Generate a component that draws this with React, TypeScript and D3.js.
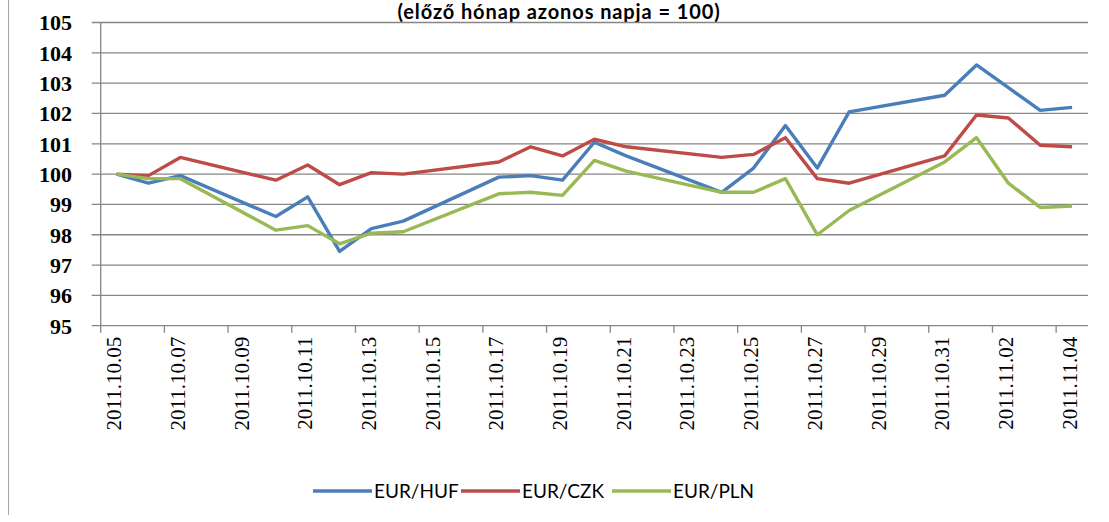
import React, { useEffect } from "react";
import * as d3 from "d3";

// trading days shown (weekends are just joined by the line)
const dates = [
  "2011-10-05", "2011-10-06", "2011-10-07", "2011-10-10", "2011-10-11",
  "2011-10-12", "2011-10-13", "2011-10-14", "2011-10-17", "2011-10-18",
  "2011-10-19", "2011-10-20", "2011-10-21", "2011-10-24", "2011-10-25",
  "2011-10-26", "2011-10-27", "2011-10-28", "2011-10-31", "2011-11-01",
  "2011-11-02", "2011-11-03", "2011-11-04",
];

const eurHuf = [
  100, 99.7, 99.95, 98.6, 99.25, 97.45, 98.2, 98.45, 99.9, 99.95, 99.8,
  101.05, 100.6, 99.4, 100.2, 101.6, 100.2, 102.05, 102.6, 103.6, 102.85,
  102.1, 102.2,
];
const eurCzk = [
  100, 99.95, 100.55, 99.8, 100.3, 99.65, 100.05, 100.0, 100.4, 100.9, 100.6,
  101.15, 100.9, 100.55, 100.65, 101.2, 99.85, 99.7, 100.6, 101.95, 101.85,
  100.95, 100.9,
];
const eurPln = [
  100, 99.85, 99.85, 98.15, 98.3, 97.7, 98.05, 98.1, 99.35, 99.4, 99.3,
  100.45, 100.1, 99.4, 99.4, 99.85, 98.0, 98.8, 100.4, 101.2, 99.7, 98.9,
  98.95,
];

const seriesNames = ["EUR/HUF", "EUR/CZK", "EUR/PLN"];
const seriesColors = ["#4A7EBB", "#BE4B48", "#98B954"];
const yTicks = [95, 96, 97, 98, 99, 100, 101, 102, 103, 104, 105];
const title = "(előző hónap azonos napja = 100)";

const W = 1109;
const H = 522;
const left = 100.7;
const right = 1088;
const top = 22.5;
const bottom = 325.7;

const parse = d3.timeParse("%Y-%m-%d");
const fmt = d3.timeFormat("%Y.%m.%d");
const key = d3.timeFormat("%Y-%m-%d");

export default function App() {
  useEffect(() => {
    document.body.style.margin = "0";
  }, []);

  const first = parse(dates[0]) as Date;
  const last = parse(dates[dates.length - 1]) as Date;
  const allDays = d3.timeDay.range(first, d3.timeDay.offset(last, 1)).map(key);

  const x = d3.scaleBand<string>().domain(allDays).range([left, right]).padding(0);
  const y = d3.scaleLinear().domain([95, 105]).range([bottom, top]);

  const labelDays = allDays.filter((_, i) => i % 2 === 0);

  const line = d3
    .line<number>()
    .x((_, i) => (x(dates[i]) as number) + x.bandwidth() / 2)
    .y((d) => y(d));

  const all = [eurHuf, eurCzk, eurPln];

  const legendX = [313, 461, 612];

  return (
    <svg width={W} height={H} style={{ display: "block" }}>
      <rect x={0} y={0} width={W} height={H} fill="#fff" />
      <line x1={8.5} x2={8.5} y1={0} y2={515} stroke="#A6A6A6" strokeWidth={1} />

      <text
        x={559}
        y={19}
        textAnchor="middle"
        fontFamily="Lato, 'Liberation Sans', sans-serif"
        fontWeight="bold"
        fontSize={20}
        letterSpacing={0.9}
        fill="#000"
      >
        {title}
      </text>

      {/* gridlines + y axis */}
      {yTicks.map((t) => (
        <g key={t}>
          <line
            x1={left - 9}
            x2={right}
            y1={y(t)}
            y2={y(t)}
            stroke="#868686"
            strokeWidth={1.3}
          />
          <text
            x={72}
            y={y(t)}
            dy="0.36em"
            textAnchor="end"
            fontFamily="'Liberation Serif', serif"
            fontWeight="bold"
            fontSize={22}
            fill="#000"
          >
            {t}
          </text>
        </g>
      ))}
      <line x1={left} x2={left} y1={top} y2={bottom} stroke="#868686" strokeWidth={1.3} />

      {/* x axis ticks and labels */}
      {labelDays.map((d) => {
        const x0 = x(d) as number;
        const cx = x0 + x.bandwidth() / 2 - 3;
        return (
          <g key={d}>
            <line x1={x0} x2={x0} y1={bottom} y2={bottom + 7} stroke="#868686" strokeWidth={1.3} />
            <text
              transform={`translate(${cx},${bottom + 11}) rotate(-90)`}
              textAnchor="end"
              dy="0.36em"
              fontFamily="'Liberation Serif', serif"
              fontSize={21}
              fill="#000"
            >
              {fmt(parse(d) as Date)}
            </text>
          </g>
        );
      })}

      {/* series */}
      {all.map((s, i) => (
        <path
          key={seriesNames[i]}
          d={line(s) || ""}
          fill="none"
          stroke={seriesColors[i]}
          strokeWidth={3.4}
          strokeLinejoin="round"
        />
      ))}

      {/* legend */}
      {seriesNames.map((n, i) => (
        <g key={n} transform={`translate(${legendX[i]},491)`}>
          <line x1={0} x2={59} y1={0} y2={0} stroke={seriesColors[i]} strokeWidth={3.4} />
          <text
            x={61}
            y={0}
            dy="0.36em"
            fontFamily="Lato, 'Liberation Sans', sans-serif"
            fontSize={19}
            fill="#000"
          >
            {n}
          </text>
        </g>
      ))}
    </svg>
  );
}
